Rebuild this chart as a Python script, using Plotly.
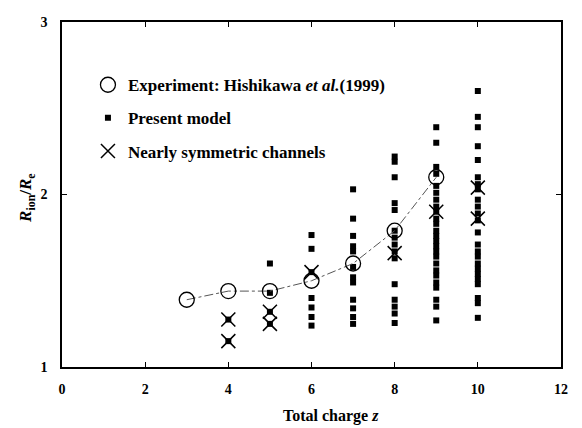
import plotly.graph_objects as go

# ---- data ----
exp_z = [3, 4, 5, 6, 7, 8, 9]
exp_r = [1.39, 1.44, 1.44, 1.50, 1.60, 1.79, 2.10]

model_by_z = {
    4: [1.275, 1.15],
    5: [1.60, 1.43, 1.32, 1.25],
    6: [1.765, 1.685, 1.55, 1.40, 1.345, 1.29, 1.24],
    7: [2.03, 1.86, 1.76, 1.70, 1.67, 1.58, 1.52, 1.49, 1.39, 1.34, 1.29, 1.25],
    8: [2.22, 2.19, 2.10, 1.95, 1.91, 1.79, 1.75, 1.71, 1.67, 1.63, 1.48, 1.39,
        1.35, 1.31, 1.255],
    9: [2.39, 2.30, 2.16, 2.12, 2.05, 2.01, 1.97, 1.93, 1.90, 1.86, 1.83, 1.79,
        1.76, 1.73, 1.70, 1.67, 1.64, 1.60, 1.56, 1.53, 1.49, 1.46, 1.39, 1.35,
        1.27],
    10: [2.60, 2.45, 2.39, 2.28, 2.20, 2.10, 2.06, 2.03, 1.97, 1.93, 1.89, 1.85,
         1.78, 1.71, 1.67, 1.64, 1.60, 1.57, 1.54, 1.51, 1.48, 1.40, 1.37, 1.285],
}

sym_z = [4, 4, 5, 5, 6, 8, 9, 10, 10]
sym_r = [1.275, 1.15, 1.32, 1.25, 1.55, 1.66, 1.90, 2.04, 1.86]

x_ticks = [0, 2, 4, 6, 8, 10, 12]
y_ticks = [1, 2, 3]

model_z = [z for z, vals in model_by_z.items() for _ in vals]
model_r = [v for vals in model_by_z.values() for v in vals]

FONT = "Liberation Serif, Times New Roman, serif"

fig = go.Figure()

fig.add_trace(go.Scatter(
    x=model_z, y=model_r, mode="markers",
    marker=dict(symbol="square", size=6, color="black"),
    name="Present model", legendgroup="b", legendrank=2,
))

fig.add_trace(go.Scatter(
    x=sym_z, y=sym_r, mode="markers",
    marker=dict(symbol="x-thin-open", size=14, color="black",
                line=dict(color="black", width=1.5)),
    name="Nearly symmetric channels", legendgroup="c", legendrank=3,
))

fig.add_trace(go.Scatter(
    x=exp_z, y=exp_r, mode="lines",
    line=dict(color="#555555", width=1, dash="dashdot"),
    showlegend=False, hoverinfo="skip",
))

fig.add_trace(go.Scatter(
    x=exp_z, y=exp_r, mode="markers",
    marker=dict(symbol="circle-open", size=15, color="black",
                line=dict(color="black", width=1.3)),
    name="Experiment: Hishikawa <i>et al.</i>(1999)", legendgroup="a", legendrank=1,
))

axis_common = dict(
    showline=True, linecolor="black", linewidth=1.5, mirror="ticks",
    ticks="inside", ticklen=5, tickwidth=1, tickcolor="black",
    showgrid=False, zeroline=False,
    tickfont=dict(family=FONT, size=14, color="black", weight="bold"),
)

fig.update_xaxes(range=[0, 12], tickvals=x_ticks, ticklabelstandoff=8, **axis_common)
fig.update_yaxes(range=[1, 3], tickvals=y_ticks, ticklabelstandoff=10, **axis_common)

fig.add_annotation(
    text="Total charge <i>z</i>", xref="paper", yref="paper",
    x=0.54, y=0, yshift=-49, xanchor="center", yanchor="middle",
    showarrow=False, font=dict(family=FONT, size=16, color="black", weight="bold"),
)
fig.add_annotation(
    text="<i>R</i><sub>ion</sub>/<i>R</i><sub>e</sub>", xref="paper", yref="paper",
    x=0, xshift=-35, y=0.49, textangle=-90, xanchor="center", yanchor="middle",
    showarrow=False, font=dict(family=FONT, size=17, color="black", weight="bold"),
)

# page body has an 8px margin: size the figure so it fits the 582x428 window
fig.update_layout(
    width=574, height=420,
    margin=dict(l=54, r=21, t=7, b=61),
    paper_bgcolor="white", plot_bgcolor="white",
    font=dict(family=FONT, color="black"),
    showlegend=True,
    legend=dict(
        x=0.052, y=0.869, xanchor="left", yanchor="top",
        bgcolor="rgba(0,0,0,0)", borderwidth=0,
        font=dict(family=FONT, size=17, color="black", weight="bold"),
        tracegroupgap=8, itemwidth=30,
    ),
)

fig.write_html("out.html")
